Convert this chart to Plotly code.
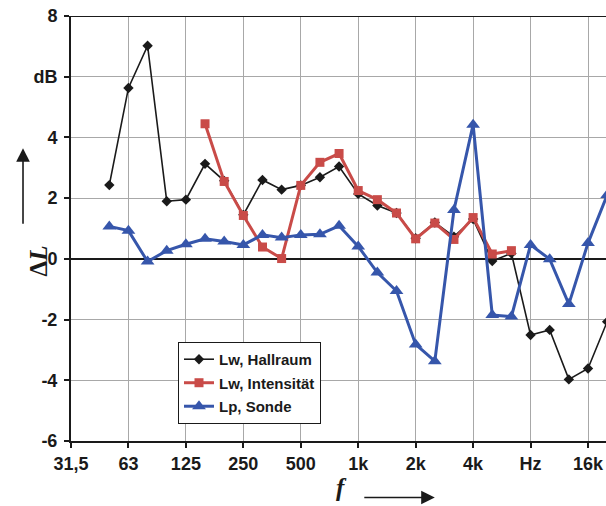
import plotly.graph_objects as go

# Third-octave band centres (index positions on the x axis)
bands = ["31,5", "40", "50", "63", "80", "100", "125", "160", "200", "250",
         "315", "400", "500", "630", "800", "1k", "1,25k", "1,6k", "2k", "2,5k",
         "3,15k", "4k", "5k", "6,3k", "8k", "10k", "12,5k", "16k", "20k"]

# Octave tick labels (every third band)
tick_pos = [0, 3, 6, 9, 12, 15, 18, 21, 24, 27]
tick_text = ["31,5", "63", "125", "250", "500", "1k", "2k", "4k", "Hz", "16k"]

y_tick_vals = [-6, -4, -2, 0, 2, 4, 6, 8]
y_tick_text = ["-6", "-4", "-2", "0", "2", "4", "dB", "8"]

# Lw, Hallraum: 50 Hz .. 20 kHz
hall_idx = list(range(2, 29))
hall_val = [2.43, 5.63, 7.02, 1.90, 1.95, 3.13, 2.57, 1.45, 2.60, 2.28,
            2.42, 2.69, 3.04, 2.14, 1.76, 1.51, 0.68, 1.20, 0.73, 1.31,
            -0.07, 0.18, -2.51, -2.34, -3.97, -3.61, -2.07]

# Lw, Intensität: 160 Hz .. 6,3 kHz
int_idx = list(range(7, 24))
int_val = [4.45, 2.55, 1.43, 0.39, 0.01, 2.42, 3.18, 3.47, 2.25, 1.95,
           1.51, 0.66, 1.18, 0.64, 1.36, 0.16, 0.27]

# Lp, Sonde: 50 Hz .. 20 kHz
sonde_idx = list(range(2, 29))
sonde_val = [1.07, 0.93, -0.09, 0.27, 0.48, 0.66, 0.57, 0.46, 0.79, 0.70,
             0.79, 0.81, 1.09, 0.41, -0.45, -1.06, -2.82, -3.37, 1.61, 4.42,
             -1.85, -1.90, 0.46, -0.01, -1.49, 0.52, 2.10]

BLACK = "#1a1a1a"
RED = "#c94b48"
BLUE = "#3656ab"
FONT = dict(family="Liberation Sans, Arial, sans-serif", size=18, color="#1a1a1a", weight=700)

fig = go.Figure()
fig.add_trace(go.Scatter(
    x=hall_idx, y=hall_val, name="Lw, Hallraum", mode="lines+markers",
    line=dict(color=BLACK, width=1.6),
    marker=dict(symbol="diamond", size=8, color=BLACK),
    legendgroup="a"))
fig.add_trace(go.Scatter(
    x=int_idx, y=int_val, name="Lw, Intensität", mode="lines+markers",
    line=dict(color=RED, width=3),
    marker=dict(symbol="square", size=9, color=RED),
    legendgroup="b"))
fig.add_trace(go.Scatter(
    x=sonde_idx, y=sonde_val, name="Lp, Sonde", mode="lines+markers",
    line=dict(color=BLUE, width=3),
    marker=dict(symbol="triangle-up", size=12, color=BLUE),
    legendgroup="c"))

fig.update_xaxes(
    range=[0, 27.94], tickmode="array", tickvals=tick_pos, ticktext=tick_text,
    showgrid=True, gridcolor="#a8a8a8", gridwidth=1.3,
    showline=True, linecolor=BLACK, linewidth=2,
    ticks="outside", ticklen=5, tickwidth=1.5, tickcolor=BLACK,
    tickfont=FONT, zeroline=False)
fig.update_yaxes(
    range=[-6, 8], tickmode="array", tickvals=y_tick_vals, ticktext=y_tick_text,
    showgrid=True, gridcolor="#a8a8a8", gridwidth=1.3,
    showline=True, linecolor=BLACK, linewidth=2,
    ticks="outside", ticklen=5, tickwidth=1.5, tickcolor=BLACK,
    ticklabelstandoff=3,
    tickfont=FONT, zeroline=True, zerolinecolor=BLACK, zerolinewidth=2)

# top frame line
fig.add_shape(type="line", xref="paper", yref="y", x0=0, x1=1, y0=8, y1=8,
              line=dict(color=BLACK, width=2))

# axis titles with arrows
fig.add_annotation(xref="paper", yref="paper", x=-0.0897, y=0.4235,
                   text="Δ<i>L</i>", textangle=-90, showarrow=False,
                   font=dict(family="Liberation Serif, Times New Roman, serif",
                             size=25, color=BLACK, weight=700))
fig.add_annotation(xref="paper", yref="paper", x=-0.0897, y=0.689,
                   ax=0, ay=77, text="", showarrow=True, arrowhead=2,
                   arrowsize=1.7, arrowwidth=1.6, arrowcolor=BLACK)
fig.add_annotation(xref="paper", yref="paper", x=0.5065, y=-0.145,
                   text="<i>f</i>", showarrow=False,
                   font=dict(family="Liberation Serif, Times New Roman, serif",
                             size=25, color=BLACK, weight=700))
fig.add_annotation(xref="paper", yref="paper", x=0.680, y=-0.133,
                   ax=-72, ay=0, text="", showarrow=True, arrowhead=2,
                   arrowsize=1.7, arrowwidth=1.6, arrowcolor=BLACK)

fig.update_layout(
    width=606, height=506,
    margin=dict(l=71, r=0, t=16, b=65),
    paper_bgcolor="white", plot_bgcolor="white",
    showlegend=True,
    legend=dict(x=0.2, y=0.233, xanchor="left", yanchor="top",
                bgcolor="white", bordercolor=BLACK, borderwidth=1,
                font=dict(family="Liberation Sans, Arial, sans-serif", size=15,
                          color=BLACK, weight=700),
                tracegroupgap=1, itemwidth=30),
)

fig.write_html("out.html")
